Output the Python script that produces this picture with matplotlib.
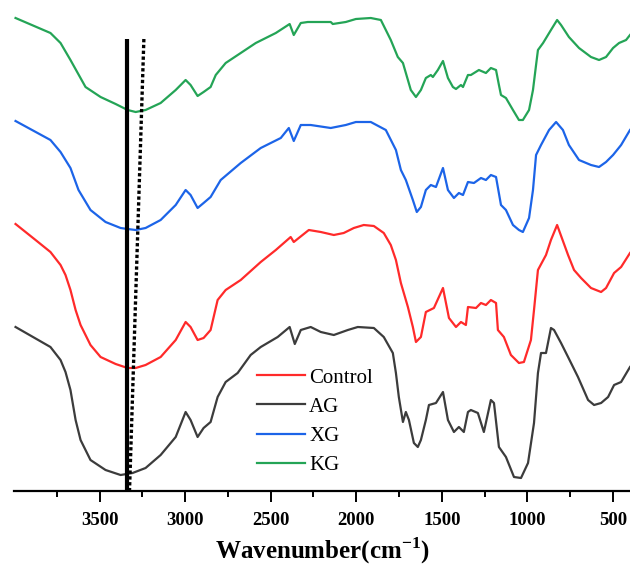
"""
FTIR spectra of Control, AG, XG and KG
"""

import matplotlib
matplotlib.use("Agg")
import matplotlib.pyplot as plt
import numpy as np

plt.rcParams['font.family'] = ['Liberation Serif', 'DejaVu Serif']
plt.rcParams['mathtext.fontset'] = 'custom'
plt.rcParams['mathtext.rm'] = 'Liberation Serif'
plt.rcParams['mathtext.bf'] = 'Liberation Serif:bold'

############### Spectra (stacked a.u.) ##################################
wn_control = [3991, 3874, 3787, 3728, 3699, 3670, 3640, 3611, 3553, 3494, 3406, 3336, 3289, 3231, 3143,
              3055, 2997, 2968, 2927, 2892, 2851, 2810, 2763, 2675, 2558, 2470, 2383, 2365, 2277, 2207,
              2131, 2073, 2014, 1956, 1897, 1839, 1798, 1768, 1739, 1698, 1669, 1651, 1622, 1593, 1546,
              1493, 1458, 1417, 1388, 1359, 1347, 1300, 1271, 1242, 1213, 1183, 1172, 1137, 1096, 1049,
              1020, 979, 961, 938, 891, 862, 826, 762, 727, 686, 628, 569, 540, 493, 452, 400]
control = [267, 251, 239, 226, 216, 201, 181, 166, 146, 134, 127, 123, 123, 126, 134,
           151, 169, 164, 151, 153, 161, 191, 201, 211, 229, 241, 254, 249, 261, 259,
           256, 258, 263, 266, 265, 258, 246, 231, 208, 184, 164, 149, 154, 179, 183,
           203, 173, 164, 169, 166, 184, 183, 188, 186, 191, 188, 161, 154, 136, 128,
           129, 151, 181, 221, 236, 251, 266, 236, 221, 213, 203, 199, 203, 218, 224, 238]

wn_ag = [3991, 3787, 3728, 3699, 3670, 3640, 3611, 3553, 3465, 3377, 3307, 3231, 3143, 3055, 2997,
         2968, 2927, 2892, 2851, 2810, 2763, 2693, 2617, 2558, 2459, 2389, 2359, 2324, 2266, 2207,
         2131, 2049, 1991, 1897, 1839, 1786, 1768, 1751, 1727, 1710, 1692, 1663, 1640, 1622, 1593,
         1575, 1534, 1493, 1464, 1429, 1400, 1371, 1347, 1330, 1289, 1254, 1213, 1195, 1166, 1125,
         1078, 1037, 996, 961, 938, 920, 891, 862, 844, 803, 762, 704, 645, 610, 569,
         528, 493, 452, 400]
ag = [164, 144, 131, 119, 101, 71, 51, 31, 21, 16, 18, 23, 36, 54, 79,
      71, 54, 63, 69, 94, 109, 118, 136, 144, 154, 164, 147, 161, 164, 159,
      156, 161, 164, 163, 154, 138, 118, 94, 69, 79, 71, 48, 44, 51, 71,
      86, 88, 99, 71, 59, 64, 59, 79, 81, 78, 59, 91, 88, 44, 34,
      14, 13, 28, 68, 118, 138, 138, 163, 161, 148, 134, 114, 91, 86, 88,
      94, 106, 109, 124]

wn_xg = [3991, 3787, 3728, 3670, 3623, 3553, 3465, 3377, 3336, 3289, 3231, 3143, 3055, 2997, 2968,
         2927, 2892, 2851, 2792, 2675, 2558, 2441, 2394, 2365, 2324, 2266, 2149, 2061, 2002, 1915,
         1827, 1768, 1739, 1710, 1669, 1646, 1622, 1593, 1564, 1534, 1493, 1464, 1429, 1400, 1376,
         1347, 1312, 1271, 1242, 1213, 1183, 1154, 1125, 1084, 1049, 1026, 990, 967, 949, 920,
         873, 832, 792, 757, 698, 628, 581, 540, 499, 452, 400]
xg = [370, 351, 339, 323, 301, 281, 269, 263, 262, 261, 263, 271, 286, 301, 296,
      283, 288, 294, 311, 328, 343, 353, 363, 350, 366, 366, 363, 366, 369, 369,
      361, 341, 321, 311, 291, 279, 284, 301, 306, 304, 323, 301, 293, 298, 296,
      309, 308, 313, 311, 316, 314, 286, 281, 266, 261, 259, 273, 301, 336, 346,
      361, 369, 361, 346, 331, 326, 324, 329, 336, 346, 361]

wn_kg = [3991, 3787, 3728, 3670, 3582, 3494, 3406, 3336, 3289, 3231, 3143, 3055, 2997, 2968, 2927,
         2892, 2851, 2821, 2763, 2675, 2587, 2470, 2389, 2365, 2324, 2283, 2149, 2137, 2061, 2002,
         1915, 1856, 1798, 1757, 1727, 1698, 1681, 1651, 1622, 1593, 1564, 1552, 1523, 1493, 1464,
         1435, 1417, 1388, 1376, 1347, 1330, 1283, 1242, 1213, 1183, 1166, 1154, 1125, 1084, 1049,
         1026, 990, 967, 949, 938, 908, 862, 826, 803, 757, 698, 628, 581, 540, 499,
         464, 423, 400]
kg = [473, 458, 448, 431, 404, 394, 387, 381, 379, 381, 388, 401, 411, 406, 395,
      399, 404, 416, 428, 438, 448, 458, 467, 456, 468, 469, 469, 467, 469, 472,
      473, 471, 451, 434, 428, 411, 401, 394, 401, 413, 416, 414, 421, 430, 413,
      404, 402, 406, 404, 416, 416, 421, 418, 423, 421, 406, 396, 393, 381, 371,
      371, 381, 401, 426, 441, 448, 461, 471, 466, 454, 443, 434, 431, 434, 443,
      448, 451, 456]

# O-H band markers
oh_solid = [3338, 3338]
oh_dotted = [3241, 3325]
marker_y = [452, 0]

fig = plt.figure(figsize=(6.3, 5.74), dpi=100)
ax = fig.add_axes([14 / 630, 83 / 574, 616 / 630, 491 / 574])

ax.plot(wn_control, control, color='#ff2a2a', lw=1.6, label='Control')
ax.plot(wn_ag, ag, color='#3c3c3c', lw=1.6, label='AG')
ax.plot(wn_xg, xg, color='#1c64e8', lw=1.6, label='XG')
ax.plot(wn_kg, kg, color='#24a456', lw=1.6, label='KG')

ax.plot(oh_solid, marker_y, color='black', lw=3.0, solid_capstyle='butt', clip_on=False)
ax.plot(oh_dotted, marker_y, color='black', lw=2.4, linestyle=(0, (1, 0.75)), clip_on=False)

ax.set_xlim(4000, 400)
ax.set_ylim(0, 491)

for s in ['left', 'top', 'right']:
    ax.spines[s].set_visible(False)
ax.spines['bottom'].set_linewidth(1.6)
ax.set_yticks([])
ax.set_xticks([3500, 3000, 2500, 2000, 1500, 1000, 500])
ax.set_xticks(np.arange(3750, 400, -500), minor=True)
ax.tick_params(axis='x', which='major', direction='out', length=8, width=1.4,
               labelsize=13.5, pad=7)
ax.tick_params(axis='x', which='minor', direction='out', length=4.5, width=1.4)
for lab in ax.get_xticklabels():
    lab.set_fontweight('bold')

ax.set_xlabel(r'Wavenumber(cm$^{\mathbf{-1}}$)', fontsize=18, fontweight='bold', labelpad=5)

ax.legend(loc='upper left', bbox_to_anchor=(257 / 630, 1 - 368 / 574),
          bbox_transform=fig.transFigure, frameon=False, fontsize=15,
          handlelength=2.3, handletextpad=0.2, labelspacing=0.46,
          borderpad=0, borderaxespad=0)

plt.savefig('out.png', dpi=100)
